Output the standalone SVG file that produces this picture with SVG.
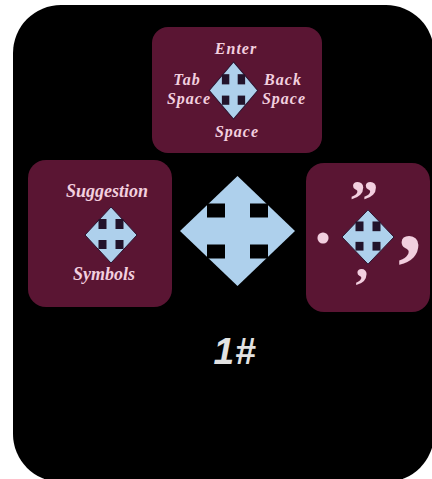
<svg xmlns="http://www.w3.org/2000/svg" width="432" height="479" viewBox="0 0 432 479">
  <style>
    .box { fill: #5a1533; }
    .lbl { font-family: "Liberation Serif", "DejaVu Serif", serif; font-style: italic; font-weight: bold; fill: #f2cfdf; text-anchor: middle; }
    .t16 { font-size: 16px; letter-spacing: 1px; }
    .t17 { font-size: 18px; }
    .punct { font-family: "Liberation Serif", "DejaVu Serif", serif; font-weight: bold; fill: #f2cfdf; text-anchor: middle; }
    .num { font-family: "Liberation Sans", Arial, sans-serif; font-style: italic; font-weight: bold; font-size: 37px; letter-spacing: 1px; fill: #e2e2e2; text-anchor: middle; }
  </style>
  <defs>
    <g id="arrow">
      <path d="M0,-55 L57.5,0 L0,55 L-57.5,0 Z" fill="#aed0ec"/>
      <rect x="-30.5" y="-27.5" width="18" height="14"/>
      <rect x="12.5" y="-27.5" width="18" height="14"/>
      <rect x="-30.5" y="13.5" width="18" height="14"/>
      <rect x="12.5" y="13.5" width="18" height="14"/>
    </g>
    <g id="arrow-s">
      <path d="M0,-28 L26,0 L0,28 L-26,0 Z" fill="#aed0ec" stroke="#2a1430" stroke-width="1"/>
      <rect x="-12.5" y="-16" width="8" height="10"/>
      <rect x="4.5" y="-16" width="8" height="10"/>
      <rect x="-12.5" y="5" width="8" height="9"/>
      <rect x="4.5" y="5" width="8" height="9"/>
    </g>
  </defs>
  <rect x="0" y="0" width="432" height="479" fill="#ffffff"/>
  <rect x="13" y="5" width="421" height="477" rx="48" ry="48" fill="#000000"/>

  <g id="top-box">
    <rect class="box" x="152" y="27" width="170" height="126" rx="16"/>
    <text class="lbl t16" x="236" y="54">Enter</text>
    <text class="lbl t16" x="187" y="85">Tab</text>
    <text class="lbl t16" x="189" y="104">Space</text>
    <text class="lbl t16" x="283" y="85">Back</text>
    <text class="lbl t16" x="284" y="104">Space</text>
    <text class="lbl t16" x="237" y="137">Space</text>
    <use href="#arrow-s" fill="#22132b" transform="translate(233.5,90.5) scale(0.93,1.02)"/>
  </g>

  <g id="left-box">
    <rect class="box" x="28" y="160" width="144" height="147" rx="18"/>
    <text class="lbl t17" x="107" y="197">Suggestion</text>
    <text class="lbl t17" x="104" y="280">Symbols</text>
    <use href="#arrow-s" fill="#22132b" transform="translate(111,235)"/>
  </g>

  <g id="center-arrow">
    <use href="#arrow" fill="#000000" transform="translate(237.5,231)"/>
  </g>

  <g id="right-box">
    <rect class="box" x="306" y="163" width="124" height="149" rx="18"/>
    <text class="punct" x="364" y="220" font-size="58">”</text>
    <text class="punct" x="323" y="243" font-size="68">.</text>
    <text class="punct" x="410" y="250" font-size="96">,</text>
    <text class="punct" x="362" y="277" font-size="52">,</text>
    <use href="#arrow-s" fill="#22132b" transform="translate(368,237) scale(1,0.97)"/>
  </g>

  <g id="mode-label">
    <text class="num" x="235" y="364">1#</text>
  </g>

  <g id="connectors"/>
</svg>
